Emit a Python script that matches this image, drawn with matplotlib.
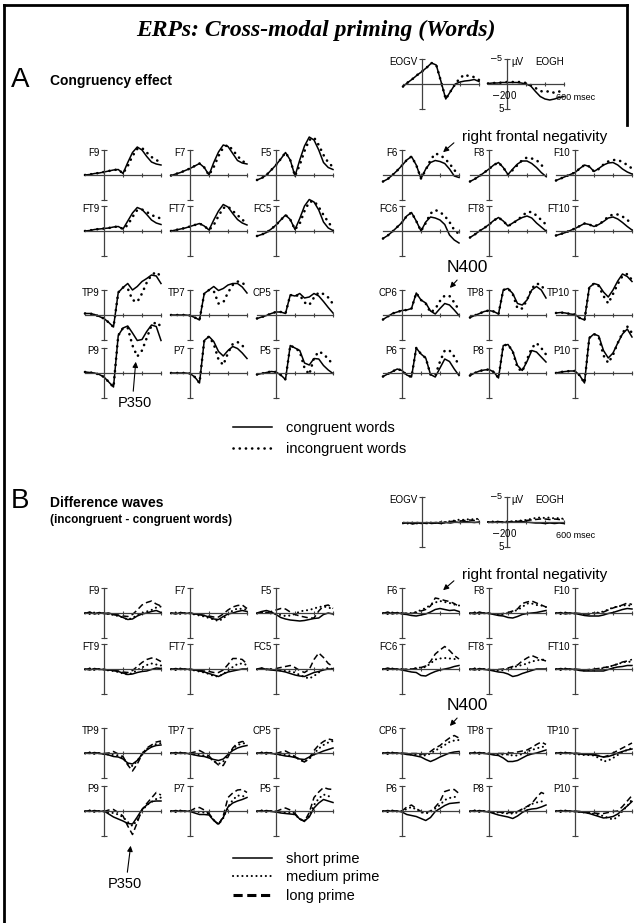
import numpy as np
import matplotlib
matplotlib.use("Agg")
import matplotlib.pyplot as plt
from matplotlib.lines import Line2D
from matplotlib.patches import FancyArrowPatch

plt.rcParams['font.family'] = ['Liberation Sans', 'DejaVu Sans']

# time axis (ms) of every sampled point
times = [-200, -150, -100, -50, 0, 50, 100, 150, 200, 250, 300, 350, 400, 450, 500, 550, 600]

# electrode layout (4 rows x 6 columns, left hemisphere then right)
rows = [['F9', 'F7', 'F5', 'F6', 'F8', 'F10'],
        ['FT9', 'FT7', 'FC5', 'FC6', 'FT8', 'FT10'],
        ['TP9', 'TP7', 'CP5', 'CP6', 'TP8', 'TP10'],
        ['P9', 'P7', 'P5', 'P6', 'P8', 'P10']]

# A: congruency effect, microvolts (negative up)
congruent = {
    'F9':   [0.0, -0.1, -0.3, -0.4, -0.6, -0.8, -1.0, -1.1, -0.3, -2.5, -4.5, -5.6, -5.0, -3.7, -2.6, -2.2, -2.0],
    'F7':   [0.1, -0.2, -0.5, -0.9, -1.3, -1.8, -2.3, -1.5, 0.0, -2.5, -4.6, -6.0, -5.7, -4.3, -2.9, -2.4, -2.2],
    'F5':   [1.0, 0.6, 0.0, -1.0, -2.0, -3.2, -4.5, -3.0, 0.2, -3.0, -5.8, -7.6, -7.0, -5.0, -2.5, -1.5, -1.1],
    'F6':   [1.3, 0.8, 0.0, -0.9, -1.9, -3.0, -3.7, -2.0, 0.7, -1.2, -2.5, -2.9, -2.7, -2.3, -1.2, 0.2, 0.5],
    'F8':   [1.3, 0.8, 0.2, -0.5, -1.2, -2.0, -2.5, -1.5, -0.1, -1.2, -2.2, -2.8, -2.8, -2.3, -1.5, -0.5, 0.3],
    'F10':  [1.1, 0.7, 0.3, -0.1, -0.5, -1.3, -2.0, -1.7, -0.7, -1.3, -2.0, -2.4, -2.5, -2.0, -1.2, -0.6, -0.2],
    'FT9':  [0.0, -0.1, -0.3, -0.4, -0.5, -0.6, -0.8, -0.9, -0.4, -2.0, -3.6, -4.7, -4.3, -3.3, -2.2, -1.6, -1.3],
    'FT7':  [0.0, -0.2, -0.4, -0.6, -0.9, -1.2, -1.5, -1.0, -0.2, -2.2, -4.0, -5.3, -4.8, -3.5, -2.3, -1.6, -1.2],
    'FC5':  [1.0, 0.7, 0.3, -0.4, -1.2, -2.2, -3.2, -2.3, -0.3, -2.5, -5.0, -6.3, -5.8, -4.2, -1.8, -0.6, -0.1],
    'FC6':  [1.5, 0.9, 0.1, -0.8, -1.7, -3.0, -3.7, -2.0, 0.0, -1.8, -2.8, -2.6, -2.2, -1.3, 0.8, 1.8, 2.4],
    'FT8':  [1.3, 0.7, 0.0, -0.6, -1.3, -2.1, -2.7, -2.0, -1.0, -1.6, -2.2, -2.7, -3.0, -2.6, -1.6, -0.8, 0.0],
    'FT10': [0.9, 0.6, 0.3, -0.1, -0.5, -1.0, -1.5, -1.3, -0.9, -1.3, -1.9, -2.6, -2.8, -2.4, -1.7, -0.9, -0.2],
    'TP9':  [-0.3, -0.3, -0.1, 0.3, 0.7, 1.5, 2.4, -4.5, -5.5, -6.3, -5.0, -5.7, -6.7, -7.3, -8.0, -7.8, -6.3],
    'TP7':  [0.0, 0.0, 0.0, 0.0, 0.1, 0.5, 1.0, -4.3, -5.0, -5.7, -4.9, -5.3, -6.0, -6.3, -6.3, -5.6, -4.4],
    'CP5':  [0.7, 0.4, 0.1, -0.3, -0.6, -0.6, -0.3, -4.0, -3.8, -4.3, -3.4, -3.6, -4.3, -3.8, -2.7, -1.5, -0.4],
    'CP6':  [0.9, 0.3, -0.3, -0.6, -0.9, -1.0, -1.3, -4.4, -3.0, -2.4, -0.8, -0.2, -1.3, -2.3, -2.0, -1.0, 0.1],
    'TP8':  [0.5, 0.1, -0.3, -0.7, -0.9, -0.7, -0.2, -5.0, -5.3, -4.3, -2.3, -2.0, -3.0, -5.0, -5.7, -5.0, -3.4],
    'TP10': [-0.4, -0.5, -0.4, -0.2, -0.1, 0.6, 1.0, -5.5, -6.3, -6.0, -4.6, -3.6, -5.0, -6.8, -8.2, -7.7, -6.7],
    'P9':   [-0.2, -0.1, 0.0, 0.3, 0.8, 1.8, 2.8, -7.5, -9.0, -9.4, -8.0, -6.5, -6.7, -8.3, -9.6, -9.3, -6.5],
    'P7':   [0.0, 0.0, 0.0, 0.0, 0.1, 0.8, 2.0, -6.5, -7.3, -6.3, -4.3, -3.4, -4.5, -5.3, -4.9, -4.0, -2.9],
    'P5':   [0.3, 0.1, -0.1, -0.3, -0.2, 0.4, 1.3, -5.5, -5.0, -4.5, -2.0, -1.6, -2.9, -2.8, -1.5, -0.6, 0.1],
    'P6':   [0.7, 0.2, -0.3, -0.8, -0.5, 0.4, 0.8, -5.0, -3.8, -3.0, 0.3, 0.8, -1.0, -2.8, -2.3, -0.8, 0.5],
    'P8':   [0.5, 0.0, -0.4, -0.6, -0.7, -0.2, 1.0, -5.5, -5.7, -4.3, -1.5, -0.5, -2.3, -4.5, -4.2, -3.2, -2.2],
    'P10':  [0.0, -0.2, -0.3, -0.4, -0.4, 0.5, 2.0, -7.0, -7.8, -7.4, -4.5, -3.0, -4.0, -6.0, -7.8, -8.8, -7.2],
}

incongruent = {
    'F9':   [0.0, -0.1, -0.3, -0.4, -0.6, -0.8, -1.0, -1.1, -0.3, -1.8, -3.8, -5.2, -5.4, -4.5, -3.6, -3.0, -2.5],
    'F7':   [0.1, -0.2, -0.5, -0.9, -1.3, -1.8, -2.3, -1.5, 0.0, -1.6, -3.8, -5.5, -6.0, -5.0, -3.8, -2.8, -2.3],
    'F5':   [1.0, 0.6, 0.0, -1.0, -2.0, -3.2, -4.5, -3.0, 0.2, -2.0, -4.8, -7.0, -7.5, -6.0, -4.0, -2.5, -1.6],
    'F6':   [1.3, 0.8, 0.0, -0.9, -1.9, -3.0, -3.7, -2.0, 0.7, -1.0, -3.0, -4.3, -4.0, -3.3, -2.3, -1.0, 0.0],
    'F8':   [1.3, 0.8, 0.2, -0.5, -1.2, -2.0, -2.5, -1.5, -0.1, -1.0, -2.0, -3.0, -3.5, -3.3, -3.0, -2.0, -1.2],
    'F10':  [1.1, 0.7, 0.3, -0.1, -0.5, -1.3, -2.0, -1.7, -0.7, -1.2, -2.1, -2.7, -3.0, -3.0, -2.6, -2.0, -1.3],
    'FT9':  [0.0, -0.1, -0.3, -0.4, -0.5, -0.6, -0.8, -0.9, -0.4, -1.2, -2.8, -4.2, -4.3, -3.8, -3.2, -2.8, -2.5],
    'FT7':  [0.0, -0.2, -0.4, -0.6, -0.9, -1.2, -1.5, -1.0, -0.2, -1.2, -3.0, -4.6, -4.9, -4.0, -3.2, -2.2, -1.8],
    'FC5':  [1.0, 0.7, 0.3, -0.4, -1.2, -2.2, -3.2, -2.3, -0.3, -1.5, -4.0, -5.8, -6.0, -4.8, -3.2, -1.8, -0.5],
    'FC6':  [1.5, 0.9, 0.1, -0.8, -1.7, -3.0, -3.7, -2.0, 0.0, -1.6, -3.5, -4.2, -3.8, -3.0, -1.8, -0.2, 0.6],
    'FT8':  [1.3, 0.7, 0.0, -0.6, -1.3, -2.1, -2.7, -2.0, -1.0, -1.5, -2.2, -3.0, -3.8, -3.8, -3.1, -2.2, -1.3],
    'FT10': [0.9, 0.6, 0.3, -0.1, -0.5, -1.0, -1.5, -1.3, -0.9, -1.3, -2.0, -2.9, -3.3, -3.3, -2.9, -2.2, -1.5],
    'TP9':  [-0.3, -0.3, -0.1, 0.3, 0.7, 1.5, 2.4, -4.5, -5.5, -5.3, -3.0, -2.6, -4.3, -6.5, -8.0, -8.6, -7.7],
    'TP7':  [0.0, 0.0, 0.0, 0.0, 0.1, 0.5, 1.0, -4.3, -5.0, -4.8, -2.3, -2.5, -4.5, -6.0, -6.7, -6.5, -5.5],
    'CP5':  [0.7, 0.4, 0.1, -0.3, -0.6, -0.6, -0.3, -4.0, -3.8, -4.0, -2.5, -2.0, -3.5, -4.5, -4.2, -3.5, -2.2],
    'CP6':  [0.9, 0.3, -0.3, -0.6, -0.9, -1.0, -1.3, -4.4, -3.0, -2.3, -0.5, -1.2, -2.8, -3.9, -3.8, -2.5, -1.0],
    'TP8':  [0.5, 0.1, -0.3, -0.7, -0.9, -0.7, -0.2, -5.0, -5.3, -4.2, -1.3, -1.3, -3.0, -5.3, -6.3, -6.0, -4.5],
    'TP10': [-0.4, -0.5, -0.4, -0.2, -0.1, 0.6, 1.0, -5.5, -6.3, -5.8, -3.8, -2.3, -4.2, -6.2, -7.8, -8.2, -7.0],
    'P9':   [-0.2, -0.1, 0.0, 0.3, 0.8, 1.8, 2.8, -7.5, -9.0, -9.0, -5.5, -3.3, -4.5, -7.0, -9.5, -10.2, -9.3],
    'P7':   [0.0, 0.0, 0.0, 0.0, 0.1, 0.8, 2.0, -6.5, -7.3, -5.8, -2.7, -1.6, -4.0, -5.8, -6.2, -5.5, -4.5],
    'P5':   [0.3, 0.1, -0.1, -0.3, -0.2, 0.4, 1.3, -5.5, -5.0, -4.3, -1.0, 0.3, -3.0, -4.3, -3.8, -2.8, -1.7],
    'P6':   [0.7, 0.2, -0.3, -0.8, -0.5, 0.4, 0.8, -5.0, -3.8, -3.0, 0.3, 0.5, -2.3, -4.5, -4.5, -3.3, -1.5],
    'P8':   [0.5, 0.0, -0.4, -0.6, -0.7, -0.2, 1.0, -5.5, -5.7, -4.3, -1.0, -0.3, -2.7, -5.0, -6.0, -5.0, -3.7],
    'P10':  [0.0, -0.2, -0.3, -0.4, -0.4, 0.5, 2.0, -7.0, -7.8, -7.2, -3.5, -2.0, -3.6, -6.0, -8.0, -9.3, -8.0],
}

# B: difference waves (incongruent - congruent) per prime duration
short_prime = {
    'F9':   [0.1, -0.2, 0.2, -0.1, 0.1, 0.0, 0.3, 0.5, 0.9, 1.3, 1.2, 0.6, 0.2, 0.0, -0.3, -0.5, -0.1],
    'F7':   [0.0, 0.2, -0.1, 0.1, 0.0, 0.2, 0.3, 0.5, 0.8, 1.2, 1.3, 0.7, 0.2, 0.0, -0.3, -0.5, -0.3],
    'F5':   [0.0, -0.3, -0.5, -0.2, 0.3, 0.9, 1.2, 1.4, 1.5, 1.6, 1.5, 1.3, 1.1, 1.0, 0.3, 0.0, 0.2],
    'F6':   [0.1, -0.2, 0.2, -0.1, 0.2, 0.3, 0.5, 0.6, 0.4, 0.2, -0.2, -0.7, -0.9, -0.7, -0.5, -0.6, -0.3],
    'F8':   [0.0, 0.2, -0.2, 0.1, 0.0, 0.3, 0.5, 0.6, 0.9, 1.0, 0.7, 0.3, 0.1, 0.0, -0.1, -0.3, -0.5],
    'F10':  [0.1, -0.1, 0.2, 0.0, 0.1, 0.3, 0.5, 0.6, 0.6, 0.6, 0.4, 0.1, -0.1, -0.4, -0.7, -0.9, -0.8],
    'FT9':  [0.0, 0.2, -0.1, 0.1, 0.1, 0.2, 0.3, 0.5, 0.8, 1.1, 1.0, 0.7, 0.5, 0.4, 0.1, -0.2, -0.1],
    'FT7':  [0.1, -0.1, 0.1, 0.0, 0.1, 0.2, 0.4, 0.6, 0.9, 1.2, 1.5, 1.0, 0.6, 0.4, 0.2, 0.0, 0.0],
    'FC5':  [0.0, -0.2, 0.1, 0.2, 0.3, 0.4, 0.6, 0.9, 1.2, 1.4, 1.5, 1.1, 0.7, 0.5, 0.2, 0.0, 0.0],
    'FC6':  [0.1, -0.2, 0.1, 0.0, 0.2, 0.4, 0.6, 0.7, 1.3, 1.4, 0.9, 0.5, 0.2, 0.0, -0.2, -0.5, -0.7],
    'FT8':  [0.0, 0.2, -0.1, 0.1, 0.2, 0.4, 0.6, 0.7, 1.0, 1.5, 1.3, 0.9, 0.6, 0.3, 0.0, 0.0, 0.0],
    'FT10': [0.1, -0.1, 0.1, 0.0, 0.1, 0.3, 0.4, 0.4, 0.4, 0.4, 0.4, 0.1, -0.2, -0.4, -0.5, -0.7, -0.7],
    'TP9':  [0.0, 0.1, -0.1, 0.1, 0.2, 0.4, 0.7, 0.8, 1.2, 2.0, 2.2, 1.5, 0.3, -0.6, -1.2, -1.5, -1.6],
    'TP7':  [0.1, -0.1, 0.1, 0.0, 0.2, 0.4, 0.6, 0.7, 1.0, 1.3, 1.5, 1.2, 0.3, -0.5, -1.0, -1.3, -1.5],
    'CP5':  [0.0, 0.1, -0.1, 0.1, 0.2, 0.4, 0.6, 0.7, 0.9, 1.2, 1.3, 0.8, 0.3, 0.0, -0.4, -0.7, -1.0],
    'CP6':  [0.1, -0.1, 0.1, 0.0, 0.1, 0.3, 0.4, 0.6, 0.8, 1.3, 1.7, 1.3, 0.8, 0.4, 0.0, -0.2, -0.3],
    'TP8':  [0.0, 0.1, -0.1, 0.1, 0.2, 0.4, 0.5, 1.0, 1.7, 1.7, 1.5, 1.0, 0.5, 0.2, 0.0, -0.3, -0.6],
    'TP10': [0.1, -0.1, 0.1, 0.0, 0.1, 0.2, 0.3, 0.3, 0.4, 0.6, 0.8, 0.7, 0.4, 0.0, -0.3, -0.6, -0.8],
    'P9':   [0.0, 0.1, -0.1, 0.1, 0.0, 0.6, 1.2, 1.6, 2.0, 2.5, 2.6, 1.2, -0.3, -1.2, -1.9, -2.0, -2.0],
    'P7':   [0.1, -0.1, 0.1, 0.0, 0.1, 0.4, 0.7, 0.7, 0.8, 1.9, 2.6, 1.3, -0.8, -1.6, -2.0, -2.3, -2.7],
    'P5':   [0.0, 0.1, -0.1, 0.1, 0.2, 0.4, 0.5, 0.6, 0.7, 1.6, 2.0, 1.2, -0.6, -1.6, -2.3, -2.0, -1.7],
    'P6':   [0.1, -0.1, 0.1, 0.0, 0.2, 0.7, 0.9, 1.1, 1.5, 1.9, 1.3, 0.1, -0.5, -1.1, -1.5, -1.6, -1.7],
    'P8':   [0.0, 0.1, -0.1, 0.1, 0.2, 0.5, 0.8, 1.0, 1.2, 1.5, 1.0, 0.3, -0.2, -0.4, -0.5, -0.8, -1.2],
    'P10':  [0.1, -0.1, 0.1, 0.0, 0.1, 0.2, 0.3, 0.5, 0.8, 1.1, 1.4, 1.3, 1.1, 0.6, -0.2, -1.0, -1.9],
}

medium_prime = {
    'F9':   [0.0, 0.2, -0.1, 0.2, 0.0, 0.2, 0.4, 0.6, 0.9, 1.3, 1.0, 0.4, 0.0, -0.3, -0.6, -1.1, -1.3],
    'F7':   [0.1, -0.1, 0.2, 0.0, 0.1, 0.3, 0.5, 0.7, 1.0, 1.3, 1.6, 1.1, 0.2, -0.5, -0.9, -0.8, -0.7],
    'F5':   [0.1, -0.2, -0.1, 0.1, 0.2, 0.4, 0.6, 0.5, 0.2, -0.3, -0.5, -0.6, -0.9, -1.2, -1.3, -1.1, -0.8],
    'F6':   [0.0, 0.2, -0.1, 0.1, 0.0, 0.1, 0.0, -0.2, -0.6, -1.0, -1.6, -2.1, -2.4, -2.2, -2.0, -1.7, -1.5],
    'F8':   [0.1, -0.1, 0.2, 0.0, 0.1, 0.2, 0.3, 0.3, 0.0, -0.3, -0.6, -1.2, -1.9, -1.9, -1.6, -1.5, -1.2],
    'F10':  [0.0, 0.2, -0.1, 0.1, 0.1, 0.2, 0.2, 0.1, 0.0, -0.1, -0.3, -0.7, -1.1, -1.3, -1.5, -1.6, -1.4],
    'FT9':  [0.1, -0.1, 0.2, 0.0, 0.1, 0.3, 0.4, 0.6, 0.9, 1.1, 0.8, 0.2, -0.3, -0.8, -1.1, -0.9, -0.7],
    'FT7':  [0.0, 0.2, -0.1, 0.1, 0.1, 0.3, 0.5, 0.7, 1.0, 1.4, 1.5, 1.0, 0.3, -0.4, -1.0, -1.1, -0.8],
    'FC5':  [0.1, -0.1, 0.1, 0.0, 0.2, 0.3, 0.4, 0.5, 0.7, 1.2, 1.6, 1.9, 1.4, 0.7, 0.0, -0.2, 0.0],
    'FC6':  [0.0, 0.2, -0.1, 0.1, 0.0, 0.1, 0.0, -0.2, -0.3, -0.4, -1.1, -1.9, -2.1, -2.2, -2.1, -2.0, -1.9],
    'FT8':  [0.1, -0.1, 0.2, 0.0, 0.1, 0.2, 0.3, 0.2, 0.0, -0.3, -0.6, -0.8, -1.1, -1.5, -1.7, -1.9, -1.8],
    'FT10': [0.0, 0.2, -0.1, 0.1, 0.1, 0.2, 0.3, 0.2, 0.1, 0.0, -0.2, -0.4, -0.7, -1.0, -1.3, -1.5, -1.4],
    'TP9':  [0.1, -0.1, 0.2, 0.0, 0.2, 0.3, 0.4, 0.5, 1.0, 2.2, 2.6, 1.6, 0.2, -0.8, -1.3, -1.8, -2.0],
    'TP7':  [0.0, 0.2, -0.1, 0.1, 0.1, 0.3, 0.4, 0.5, 0.9, 1.6, 2.2, 1.7, 0.4, -0.8, -1.6, -1.9, -2.0],
    'CP5':  [0.1, -0.1, 0.2, 0.0, 0.2, 0.3, 0.4, 0.5, 0.8, 1.3, 1.7, 1.2, 0.1, -0.9, -1.6, -2.1, -2.4],
    'CP6':  [0.0, 0.2, -0.1, 0.1, 0.1, 0.2, 0.3, 0.3, 0.4, 0.5, 0.1, -0.5, -1.0, -1.6, -2.2, -2.5, -2.6],
    'TP8':  [0.1, -0.1, 0.2, 0.0, 0.1, 0.2, 0.3, 0.3, 0.3, 0.5, 0.5, 0.2, -0.3, -0.6, -0.9, -1.2, -1.3],
    'TP10': [0.0, 0.2, -0.1, 0.1, 0.2, 0.3, 0.4, 0.4, 0.5, 1.0, 1.7, 1.5, 1.0, 0.4, -0.2, -0.6, -1.0],
    'P9':   [0.1, -0.1, 0.2, 0.0, 0.1, 0.3, 0.4, 0.7, 1.2, 2.2, 3.0, 1.8, 0.0, -1.2, -1.8, -2.4, -2.7],
    'P7':   [0.0, 0.2, -0.1, 0.1, 0.0, 0.1, 0.2, 0.3, 0.6, 1.8, 2.7, 1.4, -0.8, -2.2, -3.1, -3.0, -2.8],
    'P5':   [0.1, -0.1, 0.2, 0.0, 0.1, 0.2, 0.3, 0.4, 0.7, 1.6, 2.0, 0.9, -1.2, -2.5, -3.3, -3.0, -2.6],
    'P6':   [0.0, 0.2, -0.1, 0.1, 0.0, -0.4, -0.8, -0.3, 0.2, 0.5, 0.2, -0.5, -1.2, -2.2, -2.6, -2.8, -2.9],
    'P8':   [0.1, -0.1, 0.2, 0.0, 0.1, 0.2, 0.3, 0.4, 0.5, 0.5, 0.3, -0.2, -0.8, -1.4, -1.7, -1.9, -2.0],
    'P10':  [0.0, 0.2, -0.1, 0.1, 0.1, 0.2, 0.3, 0.4, 0.6, 0.8, 1.0, 1.4, 1.7, 1.2, 0.0, -1.0, -2.3],
}

long_prime = {
    'F9':   [0.1, -0.1, 0.1, 0.0, 0.1, 0.2, 0.3, 0.4, 0.6, 0.7, 0.3, -0.6, -1.6, -2.1, -2.4, -1.8, -1.4],
    'F7':   [0.0, 0.1, -0.1, 0.1, 0.0, 0.2, 0.3, 0.5, 0.6, 0.8, 0.8, 0.2, -0.6, -1.2, -1.5, -1.6, -0.9],
    'F5':   [0.1, -0.1, 0.0, -0.3, -0.6, -0.9, -0.8, -0.2, 0.3, 0.6, 0.8, 1.0, 1.0, -0.4, -1.4, -1.6, -0.9],
    'F6':   [0.0, 0.1, -0.1, 0.1, 0.0, 0.1, 0.1, -0.1, -0.4, -0.7, -1.4, -3.0, -2.8, -2.5, -2.3, -1.9, -1.3],
    'F8':   [0.1, -0.1, 0.1, 0.0, 0.1, 0.2, 0.2, 0.1, -0.1, -0.4, -0.8, -1.9, -2.2, -2.4, -2.0, -1.6, -1.2],
    'F10':  [0.0, 0.1, -0.1, 0.1, 0.0, 0.1, 0.2, 0.2, 0.1, 0.0, -0.2, -0.6, -1.0, -1.3, -1.6, -2.0, -1.7],
    'FT9':  [0.1, -0.1, 0.1, 0.0, 0.1, 0.2, 0.3, 0.4, 0.6, 0.7, 0.3, -0.5, -1.3, -1.9, -2.2, -2.0, -1.5],
    'FT7':  [0.0, 0.1, -0.1, 0.1, 0.0, 0.2, 0.3, 0.4, 0.5, 0.7, 0.7, 0.2, -0.9, -2.1, -2.1, -1.9, -1.0],
    'FC5':  [0.1, -0.1, 0.0, 0.1, -0.1, -0.3, -0.5, -0.7, -0.3, 0.3, 0.7, 0.1, -1.9, -3.2, -2.3, -1.1, -0.5],
    'FC6':  [0.0, 0.1, -0.1, 0.1, 0.0, 0.1, 0.0, -0.1, -0.3, -0.6, -1.5, -3.0, -3.8, -4.5, -3.7, -2.7, -2.0],
    'FT8':  [0.1, -0.1, 0.1, 0.0, 0.1, 0.2, 0.1, 0.0, -0.2, -0.5, -0.8, -1.6, -2.2, -2.7, -2.3, -1.9, -1.6],
    'FT10': [0.0, 0.1, -0.1, 0.1, 0.0, 0.1, 0.2, 0.1, 0.0, -0.1, -0.3, -0.4, -0.7, -1.0, -1.4, -1.6, -1.9],
    'TP9':  [0.1, -0.1, 0.1, 0.0, 0.1, 0.0, -0.3, 0.2, 0.7, 2.4, 3.6, 2.2, 0.3, -1.0, -1.6, -2.2, -2.4],
    'TP7':  [0.0, 0.1, -0.1, 0.1, 0.0, -0.2, -0.5, 0.0, 0.6, 1.6, 2.4, 2.5, 0.8, -1.0, -2.0, -2.3, -2.1],
    'CP5':  [0.1, -0.1, 0.1, 0.0, 0.1, -0.2, -0.4, 0.1, 0.7, 1.4, 1.8, 1.0, -0.5, -1.6, -2.3, -2.8, -2.6],
    'CP6':  [0.0, 0.1, -0.1, 0.1, 0.0, 0.1, 0.1, 0.1, 0.2, 0.2, -0.3, -1.0, -1.5, -2.3, -3.0, -3.5, -3.0],
    'TP8':  [0.1, -0.1, 0.1, 0.0, 0.1, 0.2, 0.1, 0.1, 0.0, 0.0, -0.2, -0.4, -0.6, -1.1, -1.7, -2.2, -1.7],
    'TP10': [0.0, 0.1, -0.1, 0.1, 0.0, 0.1, 0.2, 0.2, 0.3, 0.5, 0.8, 0.5, 0.0, -0.5, -1.0, -1.5, -2.0],
    'P9':   [0.1, -0.1, 0.1, 0.0, 0.1, -0.2, -0.3, 0.3, 1.0, 3.0, 4.7, 2.3, -0.3, -1.5, -2.6, -3.7, -3.2],
    'P7':   [0.0, 0.1, -0.1, 0.1, 0.0, -0.5, -0.7, -0.2, 0.5, 1.8, 2.8, 1.0, -2.7, -3.6, -4.2, -4.3, -3.7],
    'P5':   [0.1, -0.1, 0.1, 0.0, 0.1, -0.3, -0.6, -0.2, 0.5, 1.6, 2.1, 0.3, -2.7, -3.8, -4.7, -4.4, -4.3],
    'P6':   [0.0, 0.1, -0.1, 0.1, 0.0, -0.8, -1.2, -0.5, 0.1, 0.3, 0.0, -0.8, -1.9, -3.9, -4.2, -4.3, -3.5],
    'P8':   [0.1, -0.1, 0.1, 0.0, 0.1, 0.2, 0.2, 0.3, 0.3, 0.3, 0.1, -0.4, -0.9, -1.5, -2.7, -3.7, -3.3],
    'P10':  [0.0, 0.1, -0.1, 0.1, 0.0, 0.1, 0.2, 0.3, 0.4, 0.5, 0.5, 0.3, 0.1, 0.0, -0.9, -2.0, -3.1],
}

# EOG channels
eogv_cong = [0.5, -0.3, -1.0, -1.8, -2.5, -3.3, -4.2, -3.8, -0.5, 3.0, 1.5, 0.0, -0.4, -0.6, -0.7, -0.9, -0.5]
eogv_incong = [0.5, -0.3, -1.0, -1.8, -2.5, -3.3, -4.2, -3.8, -0.5, 3.0, 1.5, 0.0, -1.2, -1.9, -1.5, -1.4, -0.8]
eogh_cong = [-0.1, -0.2, -0.2, -0.3, -0.3, -0.3, -0.3, -0.2, 0.0, 0.4, 1.5, 2.5, 3.0, 3.2, 3.0, 2.7, 2.5]
eogh_incong = [-0.1, -0.2, -0.2, -0.3, -0.4, -0.4, -0.4, -0.4, -0.2, 0.2, 0.8, 1.4, 1.6, 1.4, 1.8, 1.5, 1.8]
eogv_short = [0.3, 0.1, 0.4, 0.2, 0.3, 0.1, 0.3, 0.2, 0.3, 0.1, 0.2, 0.0, 0.1, -0.1, 0.0, 0.1, 0.0]
eogv_medium = [0.2, 0.3, 0.1, 0.3, 0.2, 0.2, 0.1, 0.2, 0.0, 0.1, -0.2, -0.3, -0.5, -0.4, -0.6, -0.5, -0.7]
eogv_long = [0.1, 0.2, 0.3, 0.1, 0.2, 0.3, 0.2, 0.1, 0.2, 0.0, -0.1, -0.2, -0.2, -0.3, -0.4, -0.3, -0.5]
eogh_short = [0.0, 0.1, -0.1, 0.0, 0.1, 0.0, 0.0, -0.1, 0.0, 0.1, 0.2, 0.2, 0.3, 0.2, 0.3, 0.2, 0.3]
eogh_medium = [0.0, -0.1, 0.1, 0.0, -0.1, -0.1, -0.2, -0.3, -0.4, -0.6, -0.8, -0.9, -0.8, -0.9, -0.7, -0.8, -0.6]
eogh_long = [0.1, 0.0, -0.1, 0.1, 0.0, -0.1, -0.1, -0.2, -0.3, -0.4, -0.5, -0.6, -0.6, -0.5, -0.6, -0.5, -0.5]

W, H = 635, 923
fig = plt.figure(figsize=(W / 100, H / 100), dpi=100)

PX_MS = 0.095       # pixels per millisecond
HALF = 25           # pixels from baseline to the +-5 uV ticks
LABEL_FS = 7

solid = dict(color='black', lw=1.1, ls='-')
dots_a = dict(color='black', lw=1.9, ls=(0, (0.05, 2.3)), dash_capstyle='round')
dots_b = dict(color='black', lw=1.5, ls=(0, (0.05, 2.2)), dash_capstyle='round')
dashes_b = dict(color='black', lw=1.1, ls=(0, (4, 2.2)))


def erp_axes(x0, y0):
    # x0: pixel of stimulus onset, y0: pixel of baseline (from top)
    left = x0 - 200 * PX_MS
    ax = fig.add_axes([left / W, 1 - (y0 + HALF) / H, 800 * PX_MS / W, 2 * HALF / H])
    ax.set_xlim(-200, 600)
    ax.set_ylim(5, -5)
    ax.patch.set_visible(False)
    for s in ['top', 'right']:
        ax.spines[s].set_visible(False)
    ax.spines['left'].set_position(('data', 0))
    ax.spines['bottom'].set_position(('data', 0))
    for s in ['left', 'bottom']:
        ax.spines[s].set_linewidth(0.9)
        ax.spines[s].set_color('0.25')
    ax.set_xticks([200, 400, 600])
    ax.set_yticks([-5, 5])
    ax.tick_params(axis='x', direction='inout', length=3, width=0.8, color='0.25', labelbottom=False)
    ax.tick_params(axis='y', direction='inout', length=4, width=0.8, color='0.25', labelleft=False)
    return ax


def draw_panel(yoff, series, styles):
    left_x = [104, 190, 276, 402, 489, 575]
    row_y = [175, 231, 315, 373]
    for r, names in enumerate(rows):
        for c, name in enumerate(names):
            ax = erp_axes(left_x[c], row_y[r] + yoff)
            for data, st in zip(series, styles):
                ax.plot(times, data[name], clip_on=False, **st)
            ax.annotate(name, xy=(0, -5), xytext=(-3.5, -2), textcoords='offset points',
                        ha='right', va='center', fontsize=LABEL_FS)


def draw_eog(yoff, vseries, hseries, styles):
    axv = erp_axes(422, 84 + yoff)
    for d, st in zip(vseries, styles):
        axv.plot(times, d, clip_on=False, **st)
    axv.annotate('EOGV', xy=(0, -5), xytext=(-3.5, -2), textcoords='offset points',
                 ha='right', va='center', fontsize=LABEL_FS)
    axh = erp_axes(507, 84 + yoff)
    for d, st in zip(hseries, styles):
        axh.plot(times, d, clip_on=False, **st)
    axh.annotate('$-$5', xy=(0, -5), xytext=(-2.5, 0.5), textcoords='offset points',
                 ha='right', va='center', fontsize=6.5)
    axh.annotate('µV', xy=(0, -5), xytext=(3, -2.5), textcoords='offset points',
                 ha='left', va='center', fontsize=LABEL_FS)
    axh.annotate('EOGH', xy=(300, -5), xytext=(0, -2.5), textcoords='offset points',
                 ha='left', va='center', fontsize=LABEL_FS)
    axh.annotate('$-$200', xy=(-200, 0), xytext=(2, -8), textcoords='offset points',
                 ha='left', va='center', fontsize=LABEL_FS)
    axh.annotate('5', xy=(0, 5), xytext=(-2.5, 0), textcoords='offset points',
                 ha='right', va='center', fontsize=LABEL_FS)
    axh.annotate('600 msec', xy=(600, 0), xytext=(-6, -10), textcoords='offset points',
                 ha='left', va='center', fontsize=6.5)


# panel A
draw_eog(0, [eogv_cong, eogv_incong], [eogh_cong, eogh_incong], [solid, dots_a])
draw_panel(0, [congruent, incongruent], [solid, dots_a])

# panel B
BOFF = 438
draw_eog(BOFF, [eogv_short, eogv_medium, eogv_long], [eogh_short, eogh_medium, eogh_long],
         [solid, dots_b, dashes_b])
draw_panel(BOFF, [short_prime, medium_prime, long_prime], [solid, dots_b, dashes_b])


def fy(y):
    return 1 - y / H


# titles
fig.text(316 / W, fy(30), 'ERPs: Cross-modal priming (Words)', ha='center', va='center',
         fontsize=17, family='Liberation Serif', weight='bold', style='italic')
fig.text(20 / W, fy(80), 'A', ha='center', va='center', fontsize=20)
fig.text(50 / W, fy(81), 'Congruency effect', ha='left', va='center', fontsize=10, weight='bold')
fig.text(20 / W, fy(501), 'B', ha='center', va='center', fontsize=20)
fig.text(50 / W, fy(503), 'Difference waves', ha='left', va='center', fontsize=10, weight='bold')
fig.text(50 / W, fy(520), '(incongruent - congruent words)', ha='left', va='center',
         fontsize=8.5, weight='bold')

# annotations with arrows
arrow = dict(arrowstyle='-|>', lw=0.8, color='black', mutation_scale=8)
for yoff in [0, BOFF]:
    fig.text(535 / W, fy(137 + yoff), 'right frontal negativity', ha='center', va='center', fontsize=11)
    fig.add_artist(FancyArrowPatch((456 / W, fy(141 + yoff)), (441 / W, fy(154 + yoff)),
                                   transform=fig.transFigure, **arrow))
    fig.text(467 / W, fy(268 + yoff), 'N400', ha='center', va='center', fontsize=12.5)
    fig.add_artist(FancyArrowPatch((459 / W, fy(278 + yoff)), (448 / W, fy(290 + yoff)),
                                   transform=fig.transFigure, **arrow))

fig.text(135 / W, fy(403), 'P350', ha='center', va='center', fontsize=10.5)
fig.add_artist(FancyArrowPatch((133 / W, fy(394)), (136 / W, fy(359)),
                               transform=fig.transFigure, **arrow))
fig.text(125 / W, fy(884), 'P350', ha='center', va='center', fontsize=10.5)
fig.add_artist(FancyArrowPatch((127 / W, fy(875)), (131 / W, fy(843)),
                               transform=fig.transFigure, **arrow))

# legends
leg_a = [Line2D([], [], **solid), Line2D([], [], **dots_a)]
fig.legend(leg_a, ['congruent words', 'incongruent words'], loc='upper left',
           bbox_to_anchor=(233 / W, fy(421)), frameon=False, fontsize=10.5, handlelength=2.7,
           handletextpad=0.9, labelspacing=0.5, borderpad=0, borderaxespad=0)
leg_b = [Line2D([], [], **solid), Line2D([], [], **dots_b),
         Line2D([], [], color='black', lw=2.2, ls=(0, (3, 1.5)))]
fig.legend(leg_b, ['short prime', 'medium prime', 'long prime'], loc='upper left',
           bbox_to_anchor=(233 / W, fy(852)), frameon=False, fontsize=10.5, handlelength=2.7,
           handletextpad=0.9, labelspacing=0.3, borderpad=0, borderaxespad=0)

# frame of the figure
fig.add_artist(Line2D([4 / W, 4 / W], [0, fy(5)], color='black', lw=2))
fig.add_artist(Line2D([4 / W, 627 / W], [fy(5), fy(5)], color='black', lw=2))
fig.add_artist(Line2D([627 / W, 627 / W], [fy(5), fy(125)], color='black', lw=2))

fig.savefig('out.png', dpi=100)
